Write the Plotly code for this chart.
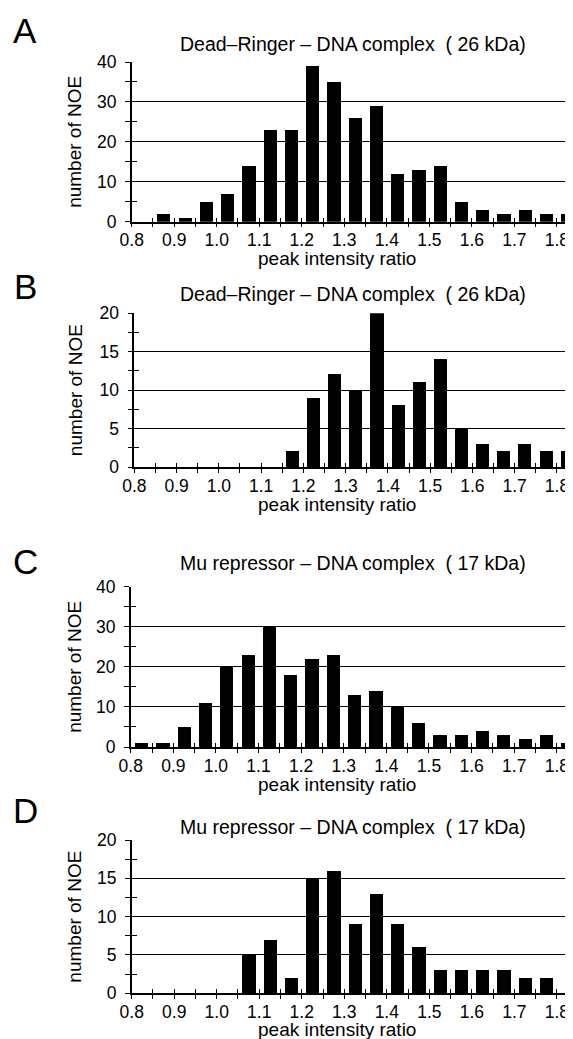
import plotly.graph_objects as go

# ---- data ----
bin_centers = [0.825, 0.875, 0.925, 0.975, 1.025, 1.075, 1.125, 1.175, 1.225, 1.275,
               1.325, 1.375, 1.425, 1.475, 1.525, 1.575, 1.625, 1.675, 1.725, 1.775, 1.825]
counts_A = [0, 2, 1, 5, 7, 14, 23, 23, 39, 35, 26, 29, 12, 13, 14, 5, 3, 2, 3, 2, 2]
counts_B = [0, 0, 0, 0, 0, 0, 0, 2, 9, 12, 10, 20, 8, 11, 14, 5, 3, 2, 3, 2, 2]
counts_C = [1, 1, 5, 11, 20, 23, 30, 18, 22, 23, 13, 14, 10, 6, 3, 3, 4, 3, 2, 3, 1]
counts_D = [0, 0, 0, 0, 0, 5, 7, 2, 15, 16, 9, 13, 9, 6, 3, 3, 3, 3, 2, 2, 0]

panel_letters = ["A", "B", "C", "D"]
panel_titles = ["Dead\u2013Ringer \u2013 DNA complex \u00a0( 26 kDa)",
                "Dead\u2013Ringer \u2013 DNA complex \u00a0( 26 kDa)",
                "Mu repressor \u2013 DNA complex \u00a0( 17 kDa)",
                "Mu repressor \u2013 DNA complex \u00a0( 17 kDa)"]
y_max = [40, 20, 40, 20]
y_dtick = [10, 5, 10, 5]
x_tick_vals = [0.8, 0.9, 1.0, 1.1, 1.2, 1.3, 1.4, 1.5, 1.6, 1.7, 1.8]
x_tick_text = ["0.8", "0.9", "1.0", "1.1", "1.2", "1.3", "1.4", "1.5", "1.6", "1.7", "1.8"]
x_title = "peak intensity ratio"
y_title = "number of NOE"

series = [counts_A, counts_B, counts_C, counts_D]

# ---- layout geometry (screen pixels; page body adds an 8px margin) ----
OFF = 8
SCREEN_W, SCREEN_H = 573, 1039
W, H = SCREEN_W - OFF, SCREEN_H - OFF
left_px = [131.7, 134.3, 130.7, 131.7]
top_px = [62, 313.3, 586.7, 840]
bot_px = [221.7, 467, 747, 993.3]
title_y_px = [44, 293.5, 563, 827]
letter_y_px = [31, 286, 561, 810]
xtitle_y_px = [258, 504, 784, 1029]
X_RANGE = [0.8, 1.838]
TICK_FONT = 17.5


def px(xs):
    return (xs - OFF) / W


def py(ys):
    return 1 - (ys - OFF) / H


FONT = "Liberation Sans, Arial, Helvetica, sans-serif"

fig = go.Figure()
layout = dict(
    template="none",
    width=W, height=H,
    margin=dict(l=0, r=0, t=0, b=0, pad=0, autoexpand=False),
    paper_bgcolor="white", plot_bgcolor="white",
    showlegend=False,
    font=dict(family=FONT, color="black", size=18),
    bargap=0,
    annotations=[],
)

for i in range(4):
    ax = "" if i == 0 else str(i + 1)
    ov = str(i + 5)  # overlay axes used only for the inner half of crossing ticks
    fig.add_trace(go.Bar(
        x=bin_centers, y=series[i], width=0.031,
        marker=dict(color="black", line=dict(width=0)),
        xaxis="x" + ax, yaxis="y" + ax, hoverinfo="x+y",
    ))
    fig.add_trace(go.Scatter(x=[None], y=[None], xaxis="x" + ov, yaxis="y" + ov,
                             mode="markers", hoverinfo="skip"))
    xd = [px(left_px[i]), 1.0]
    yd = [py(bot_px[i]), py(top_px[i])]
    layout["xaxis" + ax] = dict(
        domain=xd, anchor="y" + ax, range=X_RANGE, automargin=False,
        tickvals=x_tick_vals, ticktext=x_tick_text,
        ticks="outside", ticklen=4, tickwidth=1, tickcolor="black",
        minor=dict(dtick=0.05, tick0=0.8, ticks="outside", ticklen=4, tickcolor="black", showgrid=False),
        showline=True, linecolor="black", linewidth=1.5,
        showgrid=False, zeroline=False, ticklabelstandoff=-2,
        tickfont=dict(size=TICK_FONT, family=FONT, color="black"),
        fixedrange=True,
    )
    layout["yaxis" + ax] = dict(
        domain=yd, anchor="x" + ax, range=[0, y_max[i]], automargin=False,
        dtick=y_dtick[i], tick0=0,
        ticks="outside", ticklen=5, tickwidth=1, tickcolor="black",
        minor=dict(dtick=y_dtick[i] / 2, ticks="outside", ticklen=5, tickcolor="black", showgrid=False),
        showline=True, linecolor="black", linewidth=1.5,
        showgrid=True, gridcolor="black", gridwidth=1.2,
        zeroline=False, ticklabelstandoff=5,
        tickfont=dict(size=TICK_FONT, family=FONT, color="black"),
        fixedrange=True,
    )
    layout["xaxis" + ov] = dict(
        overlaying="x" + ax, anchor="y" + ax, side="bottom",
        range=X_RANGE, automargin=False,
        dtick=0.1, tick0=0.8, ticks="inside", ticklen=4, tickwidth=1, tickcolor="black",
        minor=dict(dtick=0.05, tick0=0.8, ticks="inside", ticklen=4, tickcolor="black", showgrid=False),
        showticklabels=False, showline=False, showgrid=False, zeroline=False, fixedrange=True,
    )
    layout["yaxis" + ov] = dict(
        overlaying="y" + ax, anchor="x" + ax, side="left",
        range=[0, y_max[i]], automargin=False,
        dtick=y_dtick[i], tick0=0, ticks="inside", ticklen=5, tickwidth=1, tickcolor="black",
        minor=dict(dtick=y_dtick[i] / 2, ticks="inside", ticklen=5, tickcolor="black", showgrid=False),
        showticklabels=False, showline=False, showgrid=False, zeroline=False, fixedrange=True,
    )
    yc = py((top_px[i] + bot_px[i]) / 2)
    layout["annotations"] += [
        dict(text=panel_titles[i], x=px(353), y=py(title_y_px[i]), xref="paper", yref="paper",
             xanchor="center", yanchor="middle", showarrow=False, font=dict(size=19.5, family=FONT)),
        dict(text=panel_letters[i], x=px(25), y=py(letter_y_px[i]), xref="paper", yref="paper",
             xanchor="center", yanchor="middle", showarrow=False, font=dict(size=35, family=FONT)),
        dict(text=x_title, x=px(337), y=py(xtitle_y_px[i]), xref="paper", yref="paper",
             xanchor="center", yanchor="middle", showarrow=False, font=dict(size=19, family=FONT)),
        dict(text=y_title, x=px(75), y=yc, xref="paper", yref="paper", textangle=-90,
             xanchor="center", yanchor="middle", showarrow=False, font=dict(size=19, family=FONT)),
    ]

fig.update_layout(**layout)
fig.write_html("out.html")
